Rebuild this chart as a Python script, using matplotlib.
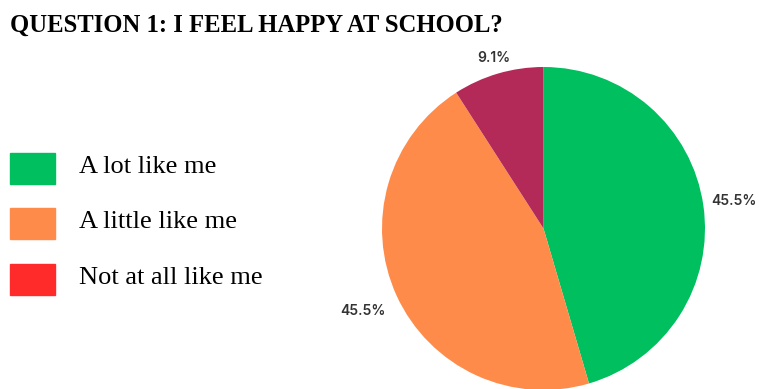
import numpy as np
import matplotlib.pyplot as plt
from matplotlib.patches import Rectangle

# Données
categories = ['A lot like me', 'A little like me', 'Not at all like me']
values = [45.5, 45.5, 9.1]
pie_colors = ['#00BF5F', '#FF8B4A', '#B32A58']
legend_colors = ['#00BF5F', '#FF8B4A', '#FF2B2B']
title = 'QUESTION 1: I FEEL HAPPY AT SCHOOL?'

W, H = 759, 389
fig = plt.figure(figsize=(W / 100, H / 100), dpi=100)

# Pie chart (centre ~ (543, 228) px, rayon ~ 161 px)
cx, cy, r = 543.5, 228.5, 161.5
ax = fig.add_axes([(cx - r) / W, (H - cy - r) / H, 2 * r / W, 2 * r / H])
wedges, texts, autotexts = ax.pie(values, colors=pie_colors, startangle=90,
                                  counterclock=False, autopct='%.1f%%',
                                  pctdistance=1.0, radius=1.0,
                                  textprops=dict(fontsize=10, fontweight='semibold',
                                                 color='#333333', family='Inter'))
label_dist = [1.19, 1.23, 1.10]
for t, d in zip(autotexts, label_dist):
    t.set_position(np.array(t.get_position()) * d)
    t.set_clip_on(False)
ax.set_xlim(-1, 1)
ax.set_ylim(-1, 1)
ax.set_aspect('equal')
ax.axis('off')

# Titre
fig.text(10 / W, 1 - 25 / H, title, fontsize=17.7, fontweight='bold',
         family='Liberation Serif', va='center', ha='left')

# Légende dessinée à la main
lax = fig.add_axes([0, 0, 1, 1])
lax.set_xlim(0, W)
lax.set_ylim(H, 0)
lax.axis('off')
y_centers = [168, 223, 279]
for lab, col, yc in zip(categories, legend_colors, y_centers):
    lax.add_patch(Rectangle((10, yc - 15.5), 45, 31, color=col))
    lax.text(79, yc - 1, lab, fontsize=19, family='Liberation Serif', va='center', ha='left')

plt.savefig('out.png', dpi=100)
